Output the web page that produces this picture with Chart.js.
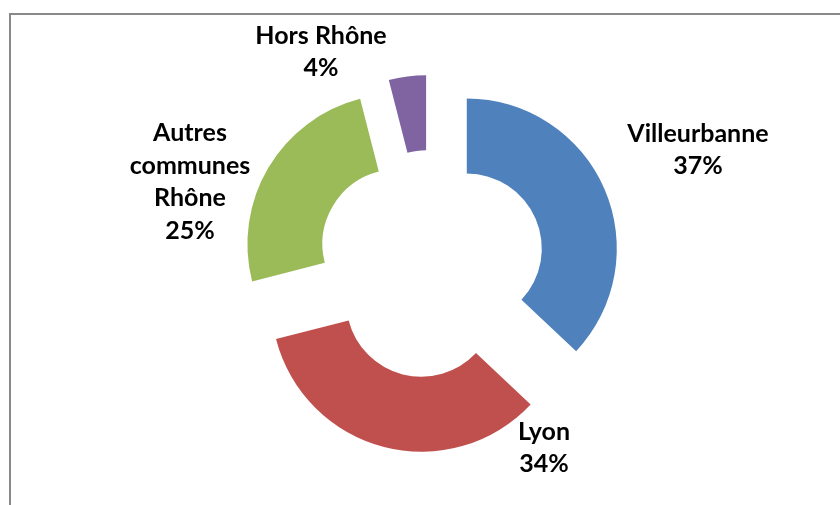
<!DOCTYPE html>
<html>
<head>
<meta charset="utf-8">
<script src="https://cdn.jsdelivr.net/npm/chart.js@4"></script>
<style>
  html, body { margin: 0; padding: 0; background: #fff; }
  .wrap { position: relative; width: 840px; height: 505px; overflow: hidden; }
  .frame { position: absolute; left: 9px; top: 13px; width: 900px; height: 600px;
           border-left: 2px solid #898989; border-top: 2px solid #898989; }
  canvas { position: absolute; left: 0; top: 0; }
</style>
</head>
<body>
<div class="wrap">
  <div class="frame"></div>
  <canvas id="chart" width="840" height="505"></canvas>
</div>
<script>
const categories = ['Villeurbanne', 'Lyon', 'Autres communes Rhône', 'Hors Rhône'];
const labelLines = [['Villeurbanne'], ['Lyon'], ['Autres', 'communes', 'Rhône'], ['Hors Rhône']];
const values = [37, 34, 25, 4];
const colors = ['#4F81BD', '#C0504D', '#9BBB59', '#8064A2'];

// label block centres, relative to the doughnut centre
const labelOffsets = [[267, -114], [113, 184], [-241, -82], [-110, -212]];
const EXPLODE = 39;
const LINE_H = 32.5;

// push every slice away from the centre along its middle angle
const explodePlugin = {
  id: 'explode',
  afterDatasetUpdate(chart, args) {
    args.meta.data.forEach(arc => {
      const mid = (arc.startAngle + arc.endAngle) / 2;
      arc.x += Math.cos(mid) * EXPLODE;
      arc.y += Math.sin(mid) * EXPLODE;
    });
  }
};

const labelPlugin = {
  id: 'sliceLabels',
  afterDraw(chart) {
    const ctx = chart.ctx;
    const area = chart.chartArea;
    const cx = (area.left + area.right) / 2;
    const cy = (area.top + area.bottom) / 2;
    const total = values.reduce((a, b) => a + b, 0);
    ctx.save();
    ctx.fillStyle = '#000';
    ctx.font = 'bold 25px Lato';
    ctx.textAlign = 'center';
    ctx.textBaseline = 'middle';
    values.forEach((v, i) => {
      const lines = labelLines[i].concat([Math.round(v / total * 100) + '%']);
      const x = cx + labelOffsets[i][0];
      let y = cy + labelOffsets[i][1] - (lines.length - 1) * LINE_H / 2;
      lines.forEach(line => {
        ctx.fillText(line, x, y);
        y += LINE_H;
      });
    });
    ctx.restore();
  }
};

new Chart(document.getElementById('chart').getContext('2d'), {
  type: 'doughnut',
  data: {
    labels: categories,
    datasets: [{
      data: values,
      backgroundColor: colors,
      borderWidth: 0
    }]
  },
  options: {
    responsive: false,
    animation: false,
    cutout: '50%',
    radius: 150,
    layout: { padding: { left: 22, top: 23, right: 0, bottom: 0 } },
    plugins: {
      legend: { display: false },
      tooltip: { enabled: false }
    }
  },
  plugins: [explodePlugin, labelPlugin]
});
</script>
</body>
</html>
